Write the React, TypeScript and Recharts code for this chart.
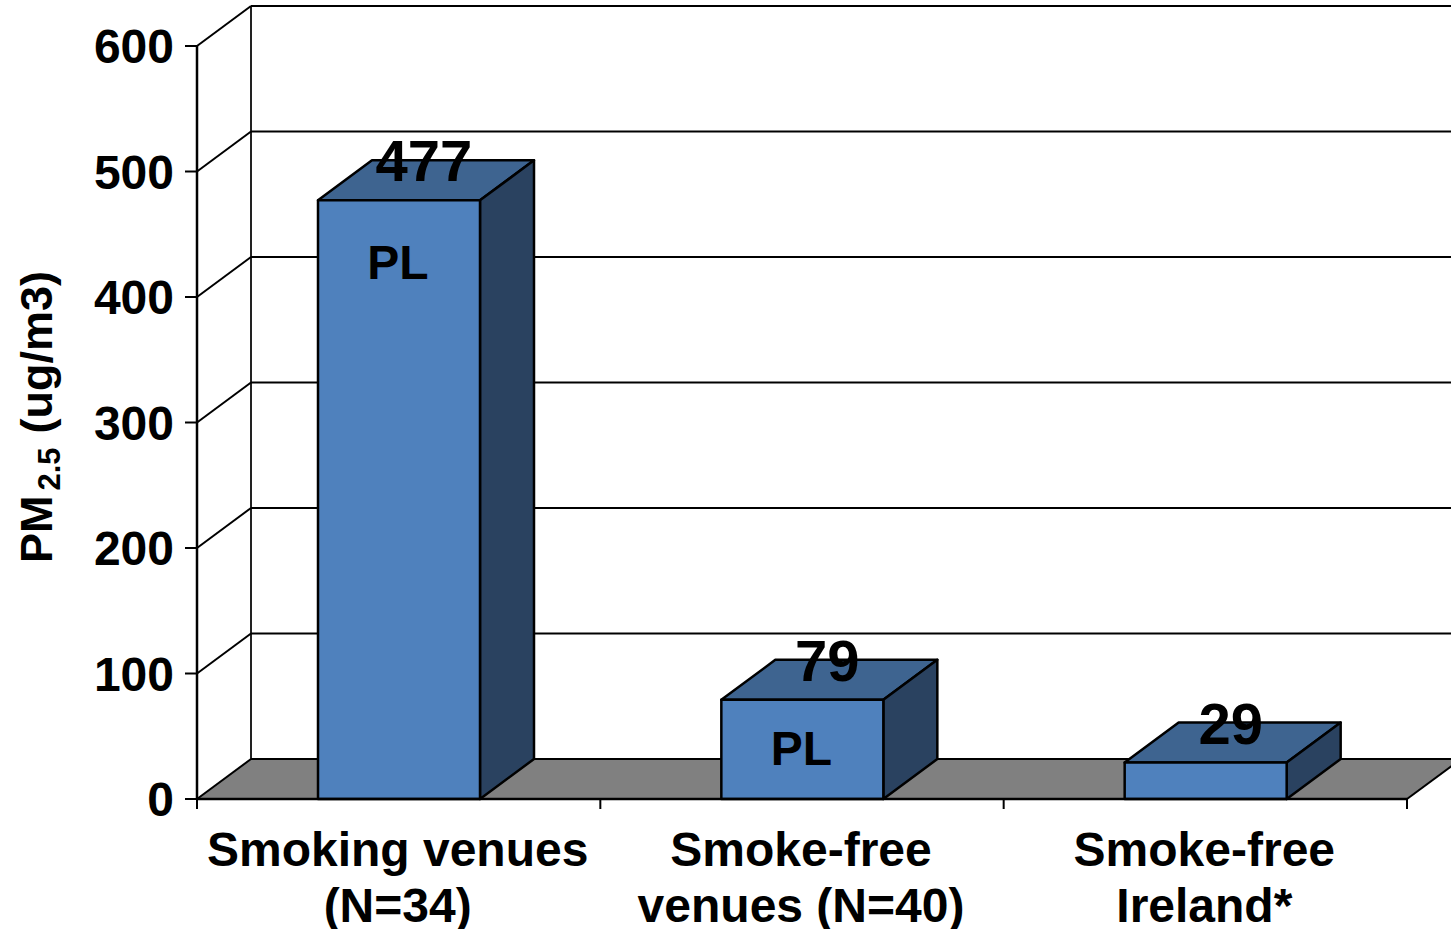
import React from "react";
import { BarChart, Bar, XAxis, YAxis, LabelList, CartesianGrid } from "recharts";

const categories = ["Smoking venues\n(N=34)", "Smoke-free\nvenues (N=40)", "Smoke-free\nIreland*"];
const pmValues = [477, 79, 29];
const notes = ["PL", "PL", ""];
const yTicks = [0, 100, 200, 300, 400, 500, 600];

const chartData = categories.map((name, i) => ({ name, pm: pmValues[i], note: notes[i] }));

const WIDTH = 1451;
const HEIGHT = 929;
const PLOT_LEFT = 197;
const PLOT_RIGHT = 1407;
const PLOT_TOP = 46;
const PLOT_BOTTOM = 799;
const BAND = (PLOT_RIGHT - PLOT_LEFT) / categories.length;
const DX = 54;
const DY = -40;
const FONT = "'Liberation Sans', Arial, sans-serif";

// grid is drawn under the bars, so the 3D walls and floor live here
const WallLine = (props: any) => {
  const y = props.y1;
  const isFloor = Math.abs(y - PLOT_BOTTOM) < 1;
  return (
    <g key={`wall-${y}`}>
      {isFloor && (
        <>
          <polygon
            points={`${PLOT_LEFT},${y} ${PLOT_LEFT + DX},${y + DY} ${PLOT_RIGHT + DX},${y + DY} ${PLOT_RIGHT},${y}`}
            fill="#808080"
            stroke="none"
          />
          <line x1={PLOT_RIGHT} y1={y} x2={PLOT_RIGHT + DX} y2={y + DY} stroke="#000" strokeWidth={2} />
          <line
            x1={PLOT_LEFT + DX}
            y1={PLOT_TOP + DY}
            x2={PLOT_LEFT + DX}
            y2={y + DY}
            stroke="#222"
            strokeWidth={2}
          />
        </>
      )}
      <line x1={PLOT_LEFT} y1={y} x2={PLOT_LEFT + DX} y2={y + DY} stroke="#000" strokeWidth={2} />
      <line x1={PLOT_LEFT + DX} y1={y + DY} x2={WIDTH} y2={y + DY} stroke="#000" strokeWidth={2} />
    </g>
  );
};

const YTick = (props: any) => {
  const { y, payload } = props;
  return (
    <g>
      <line x1={PLOT_LEFT - 12} y1={y} x2={PLOT_LEFT} y2={y} stroke="#000" strokeWidth={2} />
      <text x={174} y={y + 17} textAnchor="end" fontFamily={FONT} fontWeight="bold" fontSize={48} fill="#000">
        {payload.value}
      </text>
    </g>
  );
};

const XTick = (props: any) => {
  const { x, payload, index } = props;
  const lines = String(payload.value).split("\n");
  const edge = x - BAND / 2;
  return (
    <g>
      <line x1={edge} y1={PLOT_BOTTOM} x2={edge} y2={PLOT_BOTTOM + 10} stroke="#000" strokeWidth={2} />
      {index === categories.length - 1 && (
        <line
          x1={edge + BAND}
          y1={PLOT_BOTTOM}
          x2={edge + BAND}
          y2={PLOT_BOTTOM + 10}
          stroke="#000"
          strokeWidth={2}
        />
      )}
      {lines.map((line, i) => (
        <text
          key={line}
          x={x - 1}
          y={PLOT_BOTTOM + 67 + i * 56}
          textAnchor="middle"
          fontFamily={FONT}
          fontWeight="bold"
          fontSize={48}
          fill="#000"
        >
          {line}
        </text>
      ))}
    </g>
  );
};

const Bar3D = (props: any) => {
  const { x, y, width, height } = props;
  return (
    <g stroke="#000" strokeWidth={2.5} strokeLinejoin="round">
      <polygon
        points={`${x},${y} ${x + DX},${y + DY} ${x + width + DX},${y + DY} ${x + width},${y}`}
        fill="#3e6490"
      />
      <polygon
        points={`${x + width},${y} ${x + width + DX},${y + DY} ${x + width + DX},${y + height + DY} ${x + width},${y + height}`}
        fill="#2a4260"
      />
      <rect x={x} y={y} width={width} height={height} fill="#4f81bd" />
    </g>
  );
};

const ValueLabel = (props: any) => {
  const { x, y, width, value } = props;
  return (
    <text
      x={x + width / 2 + 25}
      y={y - 19}
      textAnchor="middle"
      fontFamily={FONT}
      fontWeight="bold"
      fontSize={58}
      fill="#000"
    >
      {value}
    </text>
  );
};

const NoteLabel = (props: any) => {
  const { x, y, width, height, value } = props;
  if (!value) return null;
  return (
    <text
      x={x + width / 2 - 1}
      y={y + Math.min(63, height / 2) + 16}
      textAnchor="middle"
      fontFamily={FONT}
      fontWeight="bold"
      fontSize={48}
      fill="#000"
    >
      {value}
    </text>
  );
};

const YTitle = () => (
  <text
    transform="rotate(-90, 52, 563)"
    x={52}
    y={563}
    fontFamily={FONT}
    fontWeight="bold"
    fontSize={45}
    fill="#000"
  >
    PM
    <tspan fontSize={31} dx={5} dy={8}>
      2.5
    </tspan>
    <tspan dx={14} dy={-8}>
      (ug/m3)
    </tspan>
  </text>
);

const App: React.FC = () => {
  return (
    <div style={{ position: "absolute", left: 0, top: 0, width: WIDTH, height: HEIGHT, background: "#fff" }}>
      <BarChart
        width={WIDTH}
        height={HEIGHT}
        data={chartData}
        barSize={162}
        margin={{ top: PLOT_TOP, right: WIDTH - PLOT_RIGHT, bottom: 30, left: PLOT_LEFT - 100 }}
      >
        <CartesianGrid horizontal={WallLine} vertical={false} />
        <YAxis
          width={100}
          domain={[0, 600]}
          ticks={yTicks}
          interval={0}
          tick={YTick}
          tickLine={false}
          axisLine={{ stroke: "#000", strokeWidth: 2.5 }}
          label={{ content: YTitle }}
        />
        <XAxis
          dataKey="name"
          height={100}
          interval={0}
          tick={XTick}
          tickLine={false}
          axisLine={{ stroke: "#000", strokeWidth: 2.5 }}
        />
        <Bar dataKey="pm" shape={Bar3D} isAnimationActive={false}>
          <LabelList dataKey="pm" content={ValueLabel} />
          <LabelList dataKey="note" content={NoteLabel} />
        </Bar>
      </BarChart>
    </div>
  );
};

export default App;
